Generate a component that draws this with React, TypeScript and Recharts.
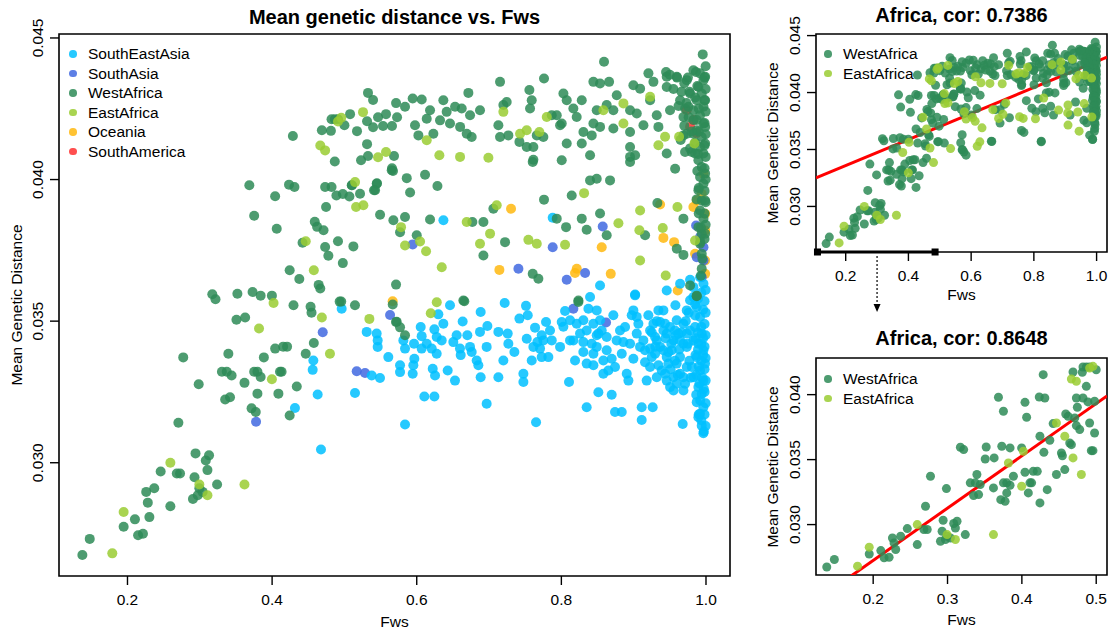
import React from 'react';
import { ScatterChart, Scatter, XAxis, YAxis, ReferenceArea, ReferenceLine, ReferenceDot } from 'recharts';

const FONT = '"Liberation Sans", Arial, Helvetica, sans-serif';
type Pt = [number, number];

// ---------- data: [Fws, mean genetic distance] ----------
const southEastAsia: Pt[] = [
  [0.4962,0.03544],[0.5308,0.03462],[0.5446,0.03456],[0.546,0.03432],[0.546,0.03409],[0.5607,0.03373],[0.5769,0.03344],[0.5769,0.0332],
  [0.5944,0.03314],[0.5967,0.03367],[0.5953,0.03344],[0.5838,0.03403],[0.5815,0.03432],[0.5962,0.0342],[0.6055,0.03479],[0.6068,0.03447],
  [0.6138,0.0342],[0.6068,0.03403],[0.6207,0.03403],[0.6244,0.03471],[0.6276,0.03444],[0.6345,0.03432],[0.6276,0.03385],[0.6221,0.03332],
  [0.6253,0.03308],[0.6428,0.03326],[0.6529,0.0329],[0.6368,0.03491],[0.6299,0.03524],[0.646,0.03556],[0.6635,0.03499],[0.6552,0.0345],
  [0.6506,0.03426],[0.6598,0.03403],[0.6608,0.0338],[0.67,0.0345],[0.6737,0.03409],[0.676,0.03391],[0.6829,0.03361],[0.6852,0.03344],
  [0.6884,0.03302],[0.6967,0.03409],[0.6884,0.03532],[0.6977,0.03483],[0.6875,0.03462],[0.7129,0.03462],[0.7198,0.03361],[0.7129,0.03302],
  [0.7258,0.03456],[0.7267,0.0342],[0.735,0.03391],[0.7216,0.03564],[0.742,0.03509],[0.7511,0.03554],[0.7535,0.03521],[0.7636,0.03477],
  [0.7521,0.03438],[0.7475,0.03314],[0.7475,0.03285],[0.759,0.03361],[0.7705,0.03403],[0.7751,0.03432],[0.7788,0.03497],[0.7843,0.03467],
  [0.782,0.03373],[0.7867,0.03432],[0.7982,0.03409],[0.8005,0.03497],[0.812,0.03503],[0.8166,0.03432],[0.8189,0.03361],[0.8051,0.03536],
  [0.8304,0.03503],[0.835,0.03467],[0.8374,0.03544],[0.8397,0.03585],[0.8489,0.03538],[0.8535,0.03503],[0.842,0.0342],[0.8489,0.03409],
  [0.8304,0.03391],[0.835,0.0335],[0.8443,0.03344],[0.8512,0.03249],[0.8581,0.03314],[0.865,0.03326],[0.8742,0.03338],[0.8627,0.03397],
  [0.8719,0.03521],[0.8765,0.03432],[0.8811,0.03467],[0.8881,0.03479],[0.895,0.0342],[0.8996,0.03367],[0.8904,0.03314],[0.8927,0.0329],
  [0.8996,0.03538],[0.9042,0.03515],[0.9019,0.03591],[0.9134,0.03432],[0.918,0.0329],[0.9157,0.03355],[0.9203,0.03521],[0.9273,0.03491],
  [0.9342,0.03538],[0.9411,0.03538],[0.9457,0.03456],[0.9411,0.03397],[0.9388,0.03326],[0.955,0.03432],[0.9503,0.03267],[0.9595,0.03503],
  [0.9577,0.03556],[0.9641,0.03373],[0.9688,0.03255],[0.955,0.03302],[0.8106,0.03285],[0.835,0.03196],[0.8696,0.0324],[0.8742,0.03179],
  [0.8835,0.03179],[0.9111,0.03196],[0.9111,0.03151],[0.9263,0.03196],[0.9678,0.03137],[0.765,0.03143],[0.6967,0.03208],[0.6105,0.03234],
  [0.6244,0.03234],[0.5838,0.03135],[0.4676,0.03047],[0.463,0.03241],[0.4316,0.03193],[0.457,0.03361],[0.4561,0.03328],[0.5146,0.03246],
  [0.5377,0.03308],[0.5492,0.03299],[0.6369,0.03856],[0.788,0.03865],[0.8535,0.03626],[0.902,0.03594],[0.9457,0.03608],[0.9642,0.03632],
  [0.978,0.03646],[0.9826,0.0362],[0.9918,0.03655],[0.9965,0.03632],
  [0.8973,0.03521],[0.9065,0.03491],[0.9227,0.03467],[0.9296,0.03444],[0.9157,0.03397],[0.925,0.03373],[0.9342,0.03344],[0.9434,0.03314],
  [0.948,0.0335],[0.9526,0.03397],[0.9572,0.03467],[0.9641,0.03432],[0.9365,0.03497],[0.9434,0.03491],[0.8858,0.03426],[0.8835,0.03385],
  [0.8627,0.03444],[0.8558,0.03467],[0.8512,0.03456],[0.8212,0.03491],[0.8258,0.03456],[0.812,0.03432],[0.8028,0.0348],[0.8443,0.03491],
  [0.8489,0.0345],[0.7728,0.0345],[0.7668,0.03426],[0.7613,0.03409],[0.7728,0.03373],[0.8304,0.03426],[0.8443,0.03385],[0.8581,0.03361],
  [0.8696,0.03367],[0.9042,0.03456],[0.9088,0.03409],[0.9227,0.03338],[0.9319,0.03302],[0.9457,0.0329],[0.9595,0.03279],[0.955,0.03255],
  [0.9734,0.03338],[0.9711,0.03279],
  [0.9826,0.03585],[0.9872,0.0355],[0.9918,0.03515],[0.9849,0.03479],[0.9941,0.03456],[0.9895,0.0342],[0.9964,0.03397],[0.9872,0.03373],
  [0.9987,0.0335],[0.9918,0.03326],[0.9826,0.03302],[0.9964,0.0329],[0.9895,0.03267],[0.9941,0.03243],[0.9872,0.03214],[0.9964,0.03196],
  [0.9918,0.03173],[0.9895,0.03161],[0.9941,0.03131],[0.9964,0.03104],[0.9826,0.03432],[0.978,0.03467],[0.9734,0.03409],[0.9803,0.03338],
  [0.9688,0.03302],[0.9411,0.03467],[0.9503,0.03479],[0.9365,0.03409],[0.9457,0.03373],[0.9595,0.0335],[0.9641,0.03314],[0.9688,0.0342],
  [0.9734,0.03456],[0.9688,0.03491],[0.9734,0.03538],[0.978,0.03574],[0.9618,0.03456],[0.9319,0.03432],[0.9227,0.03403],[0.9296,0.03385],
  [0.9995,0.0361],[0.998,0.0357],[0.9995,0.0353],[0.998,0.0349],[0.9995,0.0345],[0.998,0.0341],[0.9995,0.0337],[0.998,0.0333],
  [0.9995,0.0329],[0.998,0.0325],[0.9995,0.0321],[0.998,0.0317],[0.9995,0.0313],[0.997,0.0311],[0.985,0.0356],[0.985,0.0352],
  [0.9855,0.0344],[0.9855,0.0338],[0.9865,0.0331],[0.9865,0.0324],[0.989,0.0358],[0.989,0.0346],[0.989,0.034],[0.99,0.0334],
  [0.991,0.0328],[0.992,0.0322],[0.99,0.0317],[0.9935,0.036],[0.9935,0.0348],[0.9935,0.0342],[0.9935,0.0336],[0.995,0.033],
  [0.9935,0.0315],[0.996,0.0354],[0.996,0.0344],[0.996,0.0338],[0.997,0.0326],[0.972,0.035],[0.975,0.0342],[0.977,0.0336],
  [0.979,0.033],[0.976,0.0353],[0.966,0.0346],[0.963,0.034],[0.958,0.0345],[0.952,0.0342],[0.948,0.0339],[0.944,0.0344],
  [0.957,0.0336],[0.951,0.0333],[0.961,0.0331],[0.93,0.0341],[0.925,0.0346],[0.932,0.035],
];

const southAsia: Pt[] = [
  [0.788,0.03761],[0.8572,0.03834],[0.7406,0.03685],[0.8074,0.03646],[0.8328,0.0367],[0.5944,0.03771],[0.9863,0.03838],[0.9918,0.03797],
  [0.9965,0.03761],[0.9872,0.03726],[0.9965,0.03714],[0.9941,0.03655],[0.8166,0.03544],[0.8618,0.03495],[0.5631,0.03522],[0.47,0.03461],
  [0.517,0.03323],[0.5285,0.03317],[0.3778,0.03145],
];

const westAfrica: Pt[] = [
  [0.1376,0.02674],[0.1478,0.02731],[0.1947,0.02774],[0.2103,0.028],[0.2147,0.02744],[0.2214,0.02749],[0.2259,0.02897],[0.2281,0.02859],
  [0.2303,0.02808],[0.237,0.0291],[0.2459,0.02969],[0.2593,0.02846],[0.2682,0.02962],[0.2727,0.02962],[0.2704,0.03141],[0.2771,0.03372],
  [0.2985,0.03277],[0.2941,0.03033],[0.2927,0.02949],[0.2905,0.02872],[0.2972,0.02885],[0.2994,0.0291],[0.3039,0.02897],[0.3106,0.02974],
  [0.3128,0.03026],[0.3083,0.03008],[0.3239,0.02923],[0.3173,0.03595],[0.3217,0.03577],[0.3306,0.03321],[0.3351,0.03223],[0.3418,0.03231],
  [0.3373,0.03321],[0.3395,0.03385],[0.344,0.03308],[0.3507,0.03505],[0.352,0.03597],[0.3627,0.03513],[0.3618,0.03282],[0.3685,0.0398],
  [0.3752,0.03872],[0.373,0.03603],[0.3716,0.03192],[0.3774,0.03179],[0.3752,0.03321],[0.3797,0.03321],[0.3841,0.0359],[0.3841,0.03303],
  [0.3797,0.03244],[0.3886,0.03372],[0.3997,0.0359],[0.4042,0.03941],[0.4064,0.03826],[0.4042,0.03403],[0.4109,0.03321],[0.4087,0.03244],
  [0.4131,0.03321],[0.4153,0.0341],[0.4207,0.0341],[0.4243,0.03167],[0.4234,0.03982],[0.4243,0.0368],[0.4309,0.03974],[0.4287,0.04154],
  [0.4296,0.03556],[0.4341,0.03269],[0.4376,0.03649],[0.4421,0.03777],[0.4465,0.03385],[0.4532,0.03551],[0.4545,0.0353],[0.4577,0.03423],
  [0.459,0.03851],[0.4622,0.03833],[0.4644,0.03628],[0.4666,0.03615],[0.4688,0.04174],[0.4711,0.03821],[0.4733,0.03974],[0.4746,0.03903],
  [0.4733,0.03762],[0.4778,0.03731],[0.4822,0.03974],[0.4867,0.04064],[0.4889,0.03944],[0.4911,0.03782],[0.4934,0.03569],[0.4956,0.03569],
  [0.4978,0.03705],[0.4978,0.03949],[0.4813,0.04172],[0.4867,0.04213],[0.4911,0.04213],[0.5,0.04192],[0.4822,0.04213],
  [0.5124,0.03764],[0.5216,0.0395],[0.5424,0.03962],[0.5447,0.03985],[0.5493,0.03876],[0.5677,0.03856],[0.5654,0.04033],[0.5668,0.03559],
  [0.5714,0.03629],[0.5723,0.03498],[0.5769,0.03478],[0.5769,0.03814],[0.5838,0.03868],[0.5862,0.04005],[0.5908,0.03954],[0.6,0.03803],
  [0.6115,0.04017],[0.6184,0.03859],[0.6286,0.03977],[0.5069,0.0394],[0.5101,0.0398],[0.6658,0.0357],[0.5713,0.03497],[0.5838,0.0345],
  [0.5146,0.03556],[0.8235,0.03568],[0.9872,0.03588],
  [0.5326,0.04306],[0.5396,0.04281],[0.5714,0.0427],[0.5465,0.0422],[0.5575,0.04231],[0.5313,0.04125],[0.5326,0.04083],[0.5686,0.04083],
  [0.5658,0.0404],[0.5672,0.0403],[0.5728,0.0422],[0.5658,0.04189],[0.5534,0.04189],[0.5396,0.04185],[0.5313,0.04206],[0.5105,0.0398],
  [0.545,0.03987],[0.5409,0.03962],[0.5078,0.04231],[0.5174,0.04171],[0.523,0.04068],
  [0.9955,0.04442],[0.859,0.04416],[0.7152,0.04345],[0.776,0.04357],[0.6714,0.04306],[0.5944,0.04286],[0.6069,0.04283],[0.6368,0.0428],
  [0.653,0.04257],[0.7558,0.04316],[0.759,0.0428],[0.7567,0.04251],[0.8028,0.04304],[0.8074,0.0428],[0.8166,0.04251],[0.8443,0.04345],
  [0.8535,0.04339],[0.866,0.04345],[0.8766,0.04298],[0.8996,0.04333],[0.9089,0.04321],[0.9204,0.04375],[0.9273,0.04345],[0.9448,0.0438],
  [0.9457,0.04363],[0.9596,0.04363],[0.7198,0.04263],[0.7244,0.04274],[0.5838,0.04257],[0.6184,0.04245],[0.6414,0.04239],[0.6622,0.04251],
  [0.6875,0.04245],[0.6737,0.04227],[0.6322,0.04209],[0.6138,0.04215],[0.5976,0.04192],[0.646,0.04198],[0.66,0.04186],[0.623,0.04162],
  [0.6023,0.04156],[0.6691,0.04162],[0.676,0.0415],[0.7129,0.04192],[0.7267,0.04156],[0.7152,0.0415],[0.742,0.04133],[0.7521,0.04115],
  [0.766,0.04156],[0.7751,0.0415],[0.7867,0.04227],[0.7936,0.04227],[0.8005,0.04198],[0.8074,0.04127],[0.8212,0.04221],[0.8282,0.0428],
  [0.8305,0.04168],[0.842,0.04156],[0.8489,0.04245],[0.8627,0.04263],[0.8719,0.04245],[0.8443,0.04198],[0.8535,0.04186],[0.8719,0.0418],
  [0.895,0.04245],[0.9043,0.04233],[0.895,0.04168],[0.9135,0.04192],[0.9227,0.0428],[0.9319,0.04227],[0.9342,0.04186],[0.9457,0.04327],
  [0.9503,0.04245],[0.9642,0.0428],[0.9711,0.04251],[0.9688,0.04156],[0.9826,0.04162],[0.9803,0.04097],[0.8397,0.04086],[0.8282,0.04127],
  [0.895,0.04115],[0.895,0.0408],[0.902,0.04086],[0.895,0.04062],[0.9457,0.04092],[0.9711,0.04097],[0.9573,0.04038],[0.9849,0.04092],
  [0.7982,0.04192],[0.7613,0.0407],[0.8005,0.04068],[0.7604,0.04062],[0.8397,0.03997],[0.8673,0.03997],[0.8489,0.04003],[0.8143,0.03944],
  [0.776,0.03929],[0.706,0.03897],[0.6769,0.0385],[0.6922,0.0385],[0.7221,0.03779],[0.7936,0.03862],[0.8065,0.03832],[0.8282,0.03862],
  [0.835,0.03823],[0.8627,0.03803],[0.8535,0.0388],[0.9158,0.03803],[0.9328,0.03917],[0.9688,0.03862],[0.9596,0.03756],[0.9688,0.03734],
  [0.7604,0.03667],[0.7682,0.0365],[0.6645,0.03573],[0.8236,0.03573],[0.978,0.03626],[0.9872,0.0359],[0.6922,0.03732],[0.7613,0.04115],
  [0.9826,0.04386],[0.9918,0.04375],[0.9965,0.04351],[0.9895,0.04327],[0.9941,0.04304],[0.9872,0.0428],[0.9965,0.04257],[0.9826,0.04245],
  [0.9918,0.04227],[0.9965,0.04198],[0.9872,0.04174],[0.9941,0.0415],[0.9918,0.04115],[0.9965,0.04092],[0.9895,0.04068],[0.9941,0.04044],
  [0.9918,0.04009],[0.9965,0.03985],[0.9895,0.03962],[0.9941,0.03926],[0.9918,0.03891],[0.9965,0.03862],[0.9895,0.03832],[0.9941,0.03809],
  [0.9918,0.03773],[0.9941,0.03738],[0.9941,0.03685],[0.9734,0.04351],[0.978,0.04304],[0.9688,0.04221],[0.9757,0.04257],[0.9826,0.0421],
  [0.9734,0.04162],[0.9988,0.04363],[0.9988,0.0428],[0.9988,0.04186],[0.9988,0.04127],[0.9988,0.04021],[0.9988,0.03926],[0.9988,0.03809],
  [0.9995,0.044],[0.998,0.0436],[0.9995,0.0432],[0.998,0.0428],[0.9995,0.0424],[0.998,0.042],[0.9995,0.0416],[0.998,0.0412],
  [0.9995,0.0408],[0.998,0.0404],[0.9995,0.04],[0.998,0.0396],[0.9995,0.0392],[0.998,0.0388],[0.9995,0.0384],[0.998,0.0379],
  [0.986,0.0438],[0.988,0.0433],[0.985,0.0429],[0.99,0.0425],[0.987,0.0421],[0.99,0.0417],[0.985,0.0413],[0.989,0.0409],
  [0.988,0.0403],[0.99,0.0397],[0.987,0.0393],[0.99,0.0388],[0.993,0.0383],[0.992,0.0378],[0.995,0.0372],[0.993,0.0366],
  [0.975,0.0436],[0.977,0.0431],[0.97,0.0434],[0.966,0.0431],[0.973,0.0427],[0.96,0.0436],[0.955,0.0432],[0.95,0.0437],
  [0.962,0.0426],[0.976,0.0422],[0.97,0.0419],[0.98,0.0417],[0.965,0.0414],[0.978,0.0411],
];

const eastAfrica: Pt[] = [
  [0.179,0.0268],[0.1947,0.02826],[0.2593,0.03],[0.2994,0.02923],[0.3106,0.02885],[0.3618,0.02923],[0.3819,0.03474],[0.3997,0.03295],
  [0.402,0.03564],[0.4465,0.03782],[0.4577,0.0368],[0.4688,0.03513],[0.48,0.03385],[0.4666,0.0412],[0.4733,0.04103],[0.4911,0.04205],
  [0.4956,0.04218],
  [0.5147,0.03991],[0.5161,0.03903],[0.5262,0.03909],[0.5345,0.03508],[0.5783,0.03832],[0.5838,0.03767],[0.6046,0.03781],[0.6129,0.03747],
  [0.6346,0.0369],[0.6277,0.03567],[0.6194,0.03528],[0.5465,0.04079],[0.5575,0.04097],[0.5257,0.04238],[0.7198,0.04239],[0.7798,0.04221],
  [0.8581,0.04245],[0.8858,0.04269],[0.9227,0.04292],[0.7429,0.04162],[0.7521,0.04174],[0.7696,0.04168],[0.8858,0.04198],[0.6138,0.04139],
  [0.6313,0.04086],[0.6599,0.0408],[0.6991,0.04077],[0.9342,0.04121],[0.9434,0.04151],[0.9628,0.04151],[0.984,0.04127],[0.8314,0.03952],
  [0.7106,0.03909],[0.6691,0.0385],[0.7014,0.03809],[0.6875,0.03773],[0.7544,0.03787],[0.766,0.03773],[0.8051,0.0377],[0.8789,0.03846],
  [0.9089,0.03891],[0.9079,0.03821],[0.9402,0.03829],[0.9605,0.03903],[0.9089,0.03714],[0.9443,0.03661],[0.9849,0.03785],
];

const oceania: Pt[] = [
  [0.7304,0.03897],[0.7143,0.03681],[0.8213,0.03685],[0.8189,0.0367],[0.8683,0.03667],[0.8558,0.03761],[0.9365,0.03912],[0.9411,0.03794],
  [0.9559,0.03779],[0.9609,0.03608],[0.9872,0.03926],[0.9941,0.0395],[0.9965,0.04021],[0.9988,0.03879],[0.9988,0.0382],[0.9826,0.03903],
  [0.9988,0.03714],[0.9988,0.03667],[0.9849,0.03738],[0.5667,0.0357],
];

const southAmerica: Pt[] = [[0.9734,0.04245],[0.978,0.04186],[0.987,0.04164],[0.983,0.0421]];

const regionNames = ['SouthEastAsia', 'SouthAsia', 'WestAfrica', 'EastAfrica', 'Oceania', 'SouthAmerica'];
const regionColors = ['#00BFFF', '#4169E1', '#2E8B57', '#9ACD32', '#FFB90F', '#FF3030'];
const regionData: Pt[][] = [southEastAsia, southAsia, westAfrica, eastAfrica, oceania, southAmerica];
const drawOrder = [5, 4, 1, 0, 2, 3];

const mainXTicks = [0.2, 0.4, 0.6, 0.8, 1.0];
const mainYTicks = [0.03, 0.035, 0.04, 0.045];
const zoomXTicks = [0.2, 0.3, 0.4, 0.5];
const zoomYTicks = [0.03, 0.035, 0.04];
const fullXDomain = [0.1053, 1.0332];
const fullYDomain = [0.026, 0.04514];
const zoomXDomain = [0.1231, 0.5145];
const zoomYDomain = [0.02612, 0.04282];
const zoomCutoff = 0.5;
const fitAll = [0.0313, 0.01142]; // intercept, slope
const fitLow = [0.01919, 0.04025];
const bracketRange = [0.11, 0.485];
const arrowX = 0.3;
const arrowY = [0.02565, 0.02073];
const titles = ['Mean genetic distance vs. Fws', 'Africa, cor: 0.7386', 'Africa, cor: 0.8648'];
const xTitle = 'Fws';
const yTitle = 'Mean Genetic Distance';

// ---------- helpers ----------
const toObj = (arr: Pt[]) => arr.map(([x, y]) => ({ x, y }));
const dot = (r: number, color: string) => (p: any) =>
  <circle cx={p.cx} cy={p.cy} r={r} fill={color} fillOpacity={0.85} stroke="none" />;

const xTick = (digits: number) => (p: any) => (
  <text x={p.x} y={p.y + 14} textAnchor="middle" dominantBaseline="central" fontSize={15.5} fontFamily={FONT} fill="#000">
    {Number(p.payload.value).toFixed(digits)}
  </text>
);
const yTick = (p: any) => {
  const cx = p.x - 12;
  return (
    <text x={cx} y={p.y} transform={`rotate(-90, ${cx}, ${p.y})`} textAnchor="middle" dominantBaseline="central"
      fontSize={15.5} fontFamily={FONT} fill="#000">
      {Number(p.payload.value).toFixed(3)}
    </text>
  );
};

const Txt = ({ x, y, text, bold, rotate, start }: any) => (
  <div style={{
    position: 'absolute', left: x, top: y, whiteSpace: 'nowrap', lineHeight: 1,
    fontFamily: FONT, fontSize: bold ? 20 : 15.5, fontWeight: bold ? 700 : 400, color: '#000',
    transform: `translate(${start ? '0' : '-50%'}, -50%)${rotate ? ' rotate(-90deg)' : ''}`,
  }}>{text}</div>
);

const LegendItems = ({ dotX, textX, rowY, idx }: any) => (
  <>
    {idx.map((k: number, i: number) => (
      <React.Fragment key={regionNames[k]}>
        <div style={{ position: 'absolute', left: dotX - 3.8, top: rowY + i * 19.5 - 3.8, width: 7.6, height: 7.6,
          borderRadius: '50%', background: regionColors[k], opacity: 0.85 }} />
        <Txt x={textX} y={rowY + i * 19.5} text={regionNames[k]} start />
      </React.Fragment>
    ))}
  </>
);

const axisCommon = {
  type: 'number' as const,
  allowDataOverflow: true,
  axisLine: false,
  tickLine: { stroke: '#000', strokeWidth: 1.4 },
  tickSize: 9,
  tickMargin: 0,
  interval: 0 as const,
};

const boxArea = (xd: number[], yd: number[]) => (
  <ReferenceArea x1={xd[0]} x2={xd[1]} y1={yd[0]} y2={yd[1]} ifOverflow="visible"
    fill="none" fillOpacity={0} stroke="#000" strokeWidth={1.6} />
);

const fitSeg = (fit: number[], xd: number[]) =>
  xd.map((x) => ({ x, y: fit[0] + fit[1] * x }));

export default function App() {
  const africaIdx = [2, 3];
  const lowData = (k: number) => regionData[k].filter((p) => p[0] <= zoomCutoff);

  return (
    <div style={{ position: 'absolute', left: 0, top: 0, width: 1112, height: 630, background: '#fff', overflow: 'hidden' }}>
      {/* main panel */}
      <div style={{ position: 'absolute', left: 0, top: 0 }}>
        <ScatterChart width={740} height={630} margin={{ top: 34, right: 10, bottom: 0, left: 0 }}>
          <XAxis {...axisCommon} dataKey="x" domain={fullXDomain} ticks={mainXTicks} height={54} tick={xTick(1)} />
          <YAxis {...axisCommon} dataKey="y" domain={fullYDomain} ticks={mainYTicks} width={59} tick={yTick} />
          {drawOrder.map((k) => (
            <Scatter key={regionNames[k]} name={regionNames[k]} data={toObj(regionData[k])}
              shape={dot(5, regionColors[k])} isAnimationActive={false} />
          ))}
          {boxArea(fullXDomain, fullYDomain)}
        </ScatterChart>
      </div>

      {/* top-right panel: all Africa */}
      <div style={{ position: 'absolute', left: 740, top: 0 }}>
        <ScatterChart width={372} height={320} margin={{ top: 34, right: 5, bottom: 0, left: 0 }}>
          <XAxis {...axisCommon} dataKey="x" domain={fullXDomain} ticks={mainXTicks} height={68} tick={xTick(1)} />
          <YAxis {...axisCommon} dataKey="y" domain={fullYDomain} ticks={mainYTicks} width={76} tick={yTick} />
          {africaIdx.map((k) => (
            <Scatter key={regionNames[k]} name={regionNames[k]} data={toObj(regionData[k])}
              shape={dot(4.5, regionColors[k])} isAnimationActive={false} />
          ))}
          <ReferenceLine segment={fitSeg(fitAll, fullXDomain)} ifOverflow="hidden" stroke="#FF0000" strokeWidth={3} />
          {boxArea(fullXDomain, fullYDomain)}
          <ReferenceLine segment={[{ x: bracketRange[0], y: fullYDomain[0] }, { x: bracketRange[1], y: fullYDomain[0] }]}
            ifOverflow="visible" stroke="#000" strokeWidth={3.2} />
          {bracketRange.map((bx) => (
            <ReferenceDot key={bx} x={bx} y={fullYDomain[0]} ifOverflow="visible"
              shape={(p: any) => <rect x={p.cx - 3.5} y={p.cy - 3.5} width={7} height={7} fill="#000" />} />
          ))}
          <ReferenceLine segment={[{ x: arrowX, y: arrowY[0] }, { x: arrowX, y: arrowY[1] }]}
            ifOverflow="visible" stroke="#000" strokeWidth={1.2} strokeDasharray="2 2" />
          <ReferenceDot x={arrowX} y={arrowY[1]} ifOverflow="visible"
            shape={(p: any) => <path d={`M${p.cx - 3.5},${p.cy - 8} L${p.cx + 3.5},${p.cy - 8} L${p.cx},${p.cy} Z`} fill="#000" />} />
        </ScatterChart>
      </div>

      {/* bottom-right panel: Africa, Fws <= 0.5 */}
      <div style={{ position: 'absolute', left: 740, top: 320 }}>
        <ScatterChart width={372} height={310} margin={{ top: 38, right: 5, bottom: 0, left: 0 }}>
          <XAxis {...axisCommon} dataKey="x" domain={zoomXDomain} ticks={zoomXTicks} height={55} tick={xTick(1)} />
          <YAxis {...axisCommon} dataKey="y" domain={zoomYDomain} ticks={zoomYTicks} width={76} tick={yTick} />
          {africaIdx.map((k) => (
            <Scatter key={regionNames[k]} name={regionNames[k]} data={toObj(lowData(k))}
              shape={dot(4.5, regionColors[k])} isAnimationActive={false} />
          ))}
          <ReferenceLine segment={fitSeg(fitLow, zoomXDomain)} ifOverflow="hidden" stroke="#FF0000" strokeWidth={3} />
          {boxArea(zoomXDomain, zoomYDomain)}
        </ScatterChart>
      </div>

      {/* titles */}
      <Txt x={394.5} y={17} text={titles[0]} bold />
      <Txt x={961.5} y={15} text={titles[1]} bold />
      <Txt x={961.5} y={338} text={titles[2]} bold />
      {/* axis titles */}
      <Txt x={394.5} y={622} text={xTitle} />
      <Txt x={17} y={305} text={yTitle} rotate />
      <Txt x={961.5} y={295} text={xTitle} />
      <Txt x={773} y={143} text={yTitle} rotate />
      <Txt x={961.5} y={620} text={xTitle} />
      <Txt x={773} y={466.5} text={yTitle} rotate />
      {/* legends */}
      <LegendItems dotX={73} textX={88} rowY={54} idx={[0, 1, 2, 3, 4, 5]} />
      <LegendItems dotX={828} textX={843} rowY={54} idx={africaIdx} />
      <LegendItems dotX={828} textX={843} rowY={379} idx={africaIdx} />
    </div>
  );
}
